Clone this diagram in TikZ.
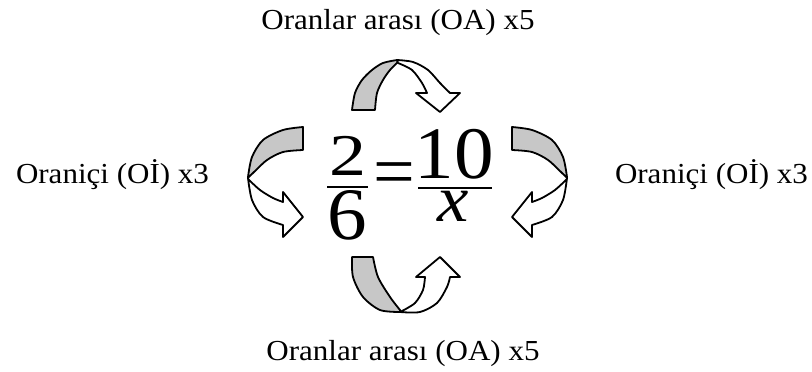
\documentclass[tikz,border=0pt]{standalone}
\usepackage{graphicx}
\usepackage{fontspec}
\setmainfont{Liberation Serif}
\newcommand{\hstretch}[1]{\scalebox{1.07}[1]{#1}}
\begin{document}
\begin{tikzpicture}[x=1pt,y=-1pt,
  lbl/.style={anchor=base,inner sep=0pt,font=\fontsize{29}{34}\selectfont},
  eqn/.style={anchor=base,inner sep=0pt,font=\fontsize{74}{80}\selectfont},
  fracbar/.style={line width=2pt},
  band/.style={draw=black,line width=1.8pt,line join=round},
  back/.style={band,fill=black!22},
  front/.style={band,fill=white}]
\useasboundingbox (0,0) rectangle (812,372);

% labels
\node[lbl] (top) at (398,29) {\hstretch{Oranlar arası (OA) x5}};
\node[lbl] (bot) at (403,360) {\hstretch{Oranlar arası (OA) x5}};
\node[lbl] (lft) at (112.5,183.5) {\hstretch{Oraniçi (Oİ) x3}};
\node[lbl] (rgt) at (711.5,183.5) {\hstretch{Oraniçi (Oİ) x3}};

% equation
\node[eqn] (n1) at (347.5,175.5) {\scalebox{1}[0.8]{2}};
\node[eqn] (d1) at (347,239.5) {\hstretch{6}};
\node[eqn] (eq) at (394,196) {=};
\node[eqn] (n2) at (454,178.5) {\hstretch{10}};
\node[eqn,font=\fontsize{66}{70}\selectfont\itshape] (d2) at (453.5,221.5) {\hstretch{x}};
\draw[fracbar] (327,187) -- (368,187);
\draw[fracbar] (418,188) -- (492,188);

% top arrow
\path[back] plot[smooth] coordinates {(352,110) (355,93) (362,80) (372,70) (383,63) (397,60)}
  -- plot[smooth] coordinates {(398,62) (390,70) (383,80) (377,93) (375,110)} -- cycle;
\path[front] plot[smooth] coordinates {(397,60) (413,62) (428,70) (440,83) (450,93)}
  -- (460,93) -- (440,112) -- (416,93)
  -- plot[smooth] coordinates {(427,93) (422,83) (412,70) (398,63)} -- cycle;

% bottom arrow
\path[back] plot[smooth] coordinates {(352,257) (353,277) (363,297) (380,310) (400,312)}
  -- plot[smooth] coordinates {(400,310) (390,297) (378,277) (373,257)} -- cycle;
\path[front] plot[smooth] coordinates {(400,312) (420,312) (437,303) (447,287) (450,277)}
  -- (460,277) -- (440,257) -- (416,277)
  -- plot[smooth] coordinates {(425,277) (423,290) (415,303) (402,311)} -- cycle;

% left arrow
\path[back] plot[smooth] coordinates {(303,127) (283,130) (263,140) (252,157) (248,177)}
  -- plot[smooth] coordinates {(248,178) (253,173) (267,160) (283,152) (303,150)} -- cycle;
\path[front] plot[smooth] coordinates {(248,178) (252,200) (263,217) (283,225)}
  -- (283,237) -- (303,217) -- (283,192)
  -- plot[smooth] coordinates {(283,202) (273,198) (260,190) (248,179)} -- cycle;

% right arrow
\path[back] plot[smooth] coordinates {(512,127) (532,130) (552,140) (563,157) (567,177)}
  -- plot[smooth] coordinates {(567,178) (562,173) (548,160) (532,152) (512,150)} -- cycle;
\path[front] plot[smooth] coordinates {(567,178) (563,200) (552,217) (532,225)}
  -- (532,237) -- (512,217) -- (532,192)
  -- plot[smooth] coordinates {(532,202) (542,198) (555,190) (567,179)} -- cycle;
\end{tikzpicture}
\end{document}
